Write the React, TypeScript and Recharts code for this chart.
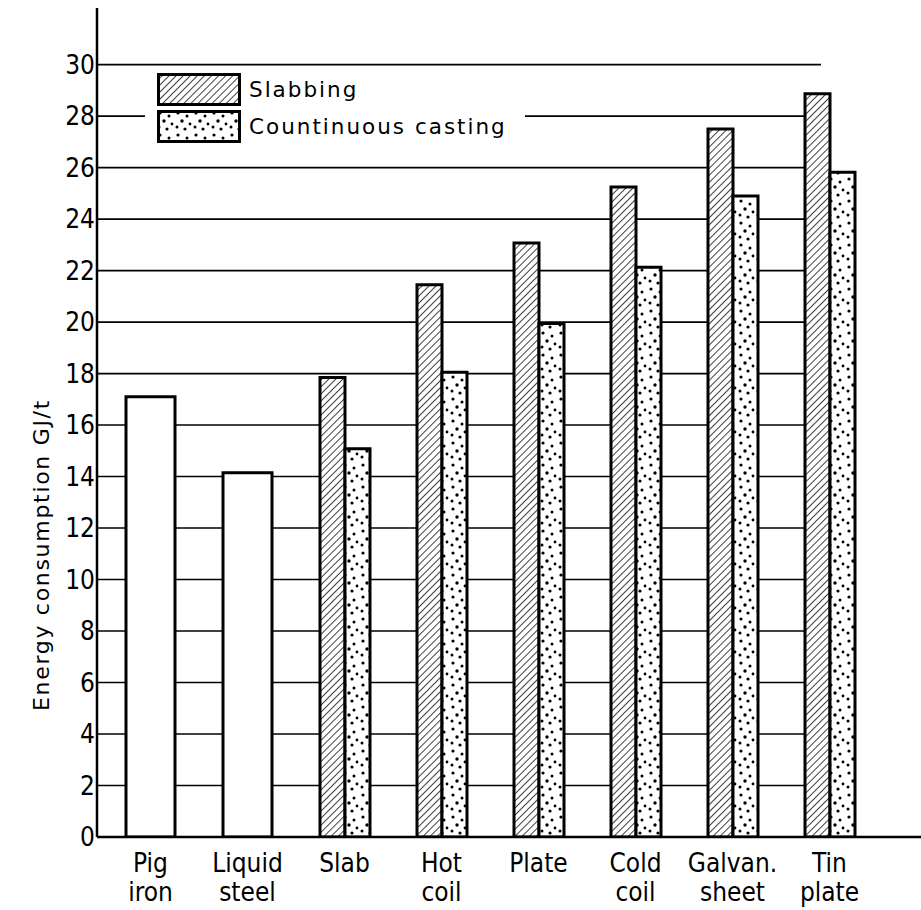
import React from 'react';
import { BarChart, Bar, XAxis, YAxis, CartesianGrid, Legend } from 'recharts';

const categories = ['Pig iron', 'Liquid steel', 'Slab', 'Hot coil', 'Plate', 'Cold coil', 'Galvan. sheet', 'Tin plate'];
const tickLines: string[][] = [
  ['Pig', 'iron'],
  ['Liquid', 'steel'],
  ['Slab', ''],
  ['Hot', 'coil'],
  ['Plate', ''],
  ['Cold', 'coil'],
  ['Galvan.', 'sheet'],
  ['Tin', 'plate'],
];
const singleValues: (number | null)[] = [17.1, 14.15, null, null, null, null, null, null];
const slabbingValues: (number | null)[] = [null, null, 17.85, 21.45, 23.07, 25.25, 27.5, 28.87];
const castingValues: (number | null)[] = [null, null, 15.08, 18.05, 19.95, 22.13, 24.9, 25.82];
const yTicks = [0, 2, 4, 6, 8, 10, 12, 14, 16, 18, 20, 22, 24, 26, 28, 30];
const seriesNames = ['Slabbing', 'Countinuous casting'];
const yLabel = 'Energy consumption GJ/t';

const data = categories.map((c, i) => ({
  name: c,
  single: singleValues[i],
  slabbing: slabbingValues[i],
  casting: castingValues[i],
}));

const CONDENSED = '"DejaVu Sans Condensed", "DejaVu Sans", sans-serif';
const REGULAR = '"DejaVu Sans", sans-serif';

const PatternDefs = ({ prefix }: { prefix: string }) => (
  <defs>
    <pattern id={`${prefix}-hatch`} width="5" height="5" patternUnits="userSpaceOnUse" patternTransform="rotate(45)">
      <rect width="5" height="5" fill="#fff" />
      <line x1="0" y1="0" x2="0" y2="5" stroke="#000" strokeWidth="1.5" />
    </pattern>
    <pattern id={`${prefix}-dots`} width="18" height="22" patternUnits="userSpaceOnUse">
      <rect width="18" height="22" fill="#fff" />
      <circle cx="3" cy="3" r="1.6" fill="#000" />
      <circle cx="12" cy="6" r="1.5" fill="#000" />
      <circle cx="7" cy="11" r="1.7" fill="#000" />
      <circle cx="15" cy="14" r="1.4" fill="#000" />
      <circle cx="2" cy="17" r="1.5" fill="#000" />
      <circle cx="10" cy="19" r="1.6" fill="#000" />
    </pattern>
  </defs>
);

const XTick = (props: any) => {
  const { x, y, payload } = props;
  const lines = tickLines[payload.index] || [payload.value, ''];
  return (
    <g>
      <text x={x} y={y + 35} textAnchor="middle" fontFamily={CONDENSED} fontSize={26} fill="#000">
        {lines[0]}
      </text>
      {lines[1] ? (
        <text x={x} y={y + 64} textAnchor="middle" fontFamily={CONDENSED} fontSize={26} fill="#000">
          {lines[1]}
        </text>
      ) : null}
    </g>
  );
};

const YLabel = (props: any) => {
  const vb = props.viewBox || { x: 0, y: 0 };
  const cx = vb.x + 41;
  const cy = vb.y + 547;
  return (
    <text
      x={cx}
      y={cy}
      transform={`rotate(-90, ${cx}, ${cy})`}
      textAnchor="middle"
      dominantBaseline="central"
      fontFamily={REGULAR}
      fontSize={22}
      letterSpacing={1.7}
      fill="#000"
    >
      {yLabel}
    </text>
  );
};

const GridLine = (props: any) => {
  const { x1, x2, y1, y2 } = props;
  const top = typeof props.y === 'number' ? props.y : 8;
  if (Math.abs(y1 - top) < 1) return <g />;
  return <line x1={x1} x2={x2 - 100} y1={y1} y2={y2} stroke="#000" strokeWidth={1.6} />;
};

const LegendContent = () => (
  <div style={{ background: '#fff', padding: '2px 18px 2px 12px' }}>
    {seriesNames.map((n, i) => (
      <div key={n} style={{ display: 'flex', alignItems: 'center', height: 37 }}>
        <svg width={84} height={33} style={{ display: 'block' }}>
          <PatternDefs prefix={`lg${i}`} />
          <rect
            x={1.5}
            y={1.5}
            width={81}
            height={30}
            fill={i === 0 ? `url(#lg${i}-hatch)` : `url(#lg${i}-dots)`}
            stroke="#000"
            strokeWidth={3}
          />
        </svg>
        <span style={{ marginLeft: 8, fontFamily: REGULAR, fontSize: 21.5, letterSpacing: 2, color: '#000', whiteSpace: 'nowrap' }}>
          {n}
        </span>
      </div>
    ))}
  </div>
);

export default function App() {
  return (
    <div style={{ position: 'absolute', left: 0, top: 0, width: 921, height: 910, background: '#fff' }}>
      <BarChart
        width={921}
        height={910}
        data={data}
        margin={{ top: 8, right: 0, bottom: 0, left: 0 }}
        barGap={0}
      >
        <PatternDefs prefix="ch" />
        <CartesianGrid vertical={false} horizontal={GridLine} />
        <XAxis
          xAxisId="main"
          dataKey="name"
          height={73}
          padding={{ left: 5, right: 43 }}
          axisLine={{ stroke: '#000', strokeWidth: 2.5 }}
          tickLine={false}
          tickSize={0}
          tickMargin={0}
          tick={XTick}
          interval={0}
        />
        <XAxis xAxisId="single" dataKey="name" hide padding={{ left: 5, right: 43 }} />
        <YAxis
          width={97}
          domain={[0, 32.2]}
          ticks={yTicks}
          allowDataOverflow
          axisLine={{ stroke: '#000', strokeWidth: 2.5 }}
          tickLine={false}
          tickSize={0}
          tickMargin={2}
          tick={{ fill: '#000', fontSize: 26, fontFamily: CONDENSED }}
          label={{ content: YLabel }}
        />
        <Legend
          layout="horizontal"
          verticalAlign="middle"
          align="center"
          content={LegendContent}
          wrapperStyle={{ position: 'absolute', left: 145, top: 69, width: 'auto' }}
        />
        <Bar
          xAxisId="single"
          dataKey="single"
          barSize={49}
          fill="#fff"
          stroke="#000"
          strokeWidth={3}
          isAnimationActive={false}
          legendType="none"
        />
        <Bar
          xAxisId="main"
          dataKey="slabbing"
          name={seriesNames[0]}
          barSize={25}
          fill="url(#ch-hatch)"
          stroke="#000"
          strokeWidth={3}
          isAnimationActive={false}
        />
        <Bar
          xAxisId="main"
          dataKey="casting"
          name={seriesNames[1]}
          barSize={25}
          fill="url(#ch-dots)"
          stroke="#000"
          strokeWidth={3}
          isAnimationActive={false}
        />
      </BarChart>
    </div>
  );
}
